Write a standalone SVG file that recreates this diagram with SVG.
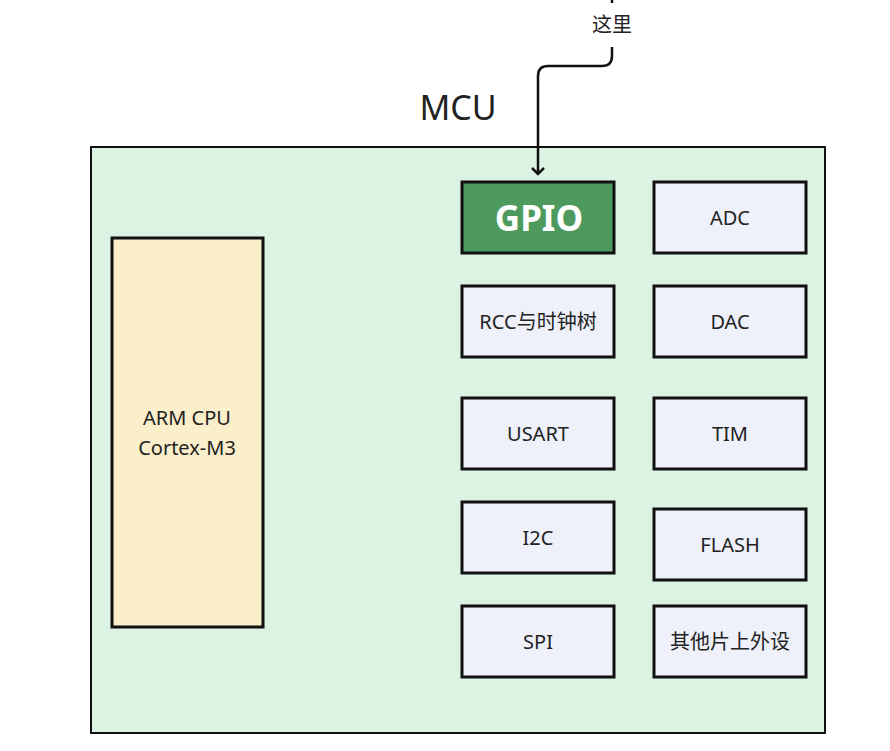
<svg xmlns="http://www.w3.org/2000/svg" width="890" height="751" viewBox="0 0 890 751">
<defs>
<style>
.box{fill:#eef0fa;stroke:#111;stroke-width:3}
.lbl{font-family:"Noto Sans","Noto Sans CJK SC",sans-serif;font-size:20px;fill:#222;text-anchor:middle;dominant-baseline:central}
.conn{fill:none;stroke:#111;stroke-width:2.5}
</style>
<marker id="arr" markerWidth="14" markerHeight="14" refX="7" refY="7" orient="auto" markerUnits="userSpaceOnUse" viewBox="0 0 14 14">
<path d="M1,1 L7,7 L1,13" fill="none" stroke="#111" stroke-width="2.5"/>
</marker>
</defs>
<rect width="890" height="751" fill="#fff"/>
<g id="mcu">
<rect x="91" y="147" width="734" height="586" fill="#dcf2e2" stroke="#111" stroke-width="2"/>
<text x="458" y="107" class="lbl" style="font-size:34px">MCU</text>
</g>
<g id="cpu">
<rect x="112" y="238" width="151" height="389" fill="#faeecb" stroke="#111" stroke-width="3"/>
<text x="187" y="417" class="lbl">ARM CPU</text>
<text x="187" y="447" class="lbl">Cortex-M3</text>
</g>
<g id="gpio">
<rect x="462" y="182" width="152" height="71" fill="#4e9a5e" stroke="#111" stroke-width="3"/>
<text x="539" y="217" class="lbl" style="font-size:35px;font-weight:bold;fill:#fff">GPIO</text>
</g>
<g id="adc"><rect x="654" y="182" width="152" height="71" class="box"/><text x="730" y="217" class="lbl">ADC</text></g>
<g id="rcc"><rect x="462" y="286" width="152" height="71" class="box"/><text x="538" y="321" class="lbl">RCC与时钟树</text></g>
<g id="dac"><rect x="654" y="286" width="152" height="71" class="box"/><text x="730" y="321" class="lbl">DAC</text></g>
<g id="usart"><rect x="462" y="398" width="152" height="71" class="box"/><text x="538" y="433" class="lbl">USART</text></g>
<g id="tim"><rect x="654" y="398" width="152" height="71" class="box"/><text x="730" y="433" class="lbl">TIM</text></g>
<g id="i2c"><rect x="462" y="502" width="152" height="71" class="box"/><text x="538" y="537" class="lbl">I2C</text></g>
<g id="flash"><rect x="654" y="509" width="152" height="71" class="box"/><text x="730" y="544" class="lbl">FLASH</text></g>
<g id="spi"><rect x="462" y="606" width="152" height="71" class="box"/><text x="538" y="641" class="lbl">SPI</text></g>
<g id="other"><rect x="654" y="606" width="152" height="71" class="box"/><text x="730" y="641" class="lbl">其他片上外设</text></g>
<g id="connectors">
<line x1="612" y1="0" x2="612" y2="3" class="conn"/>
<path d="M612,47 L612,56 Q612,66 602,66 L548,66 Q538,66 538,76 L538,174" class="conn" marker-end="url(#arr)"/>
<text x="612" y="24" class="lbl">这里</text>
</g>
</svg>
